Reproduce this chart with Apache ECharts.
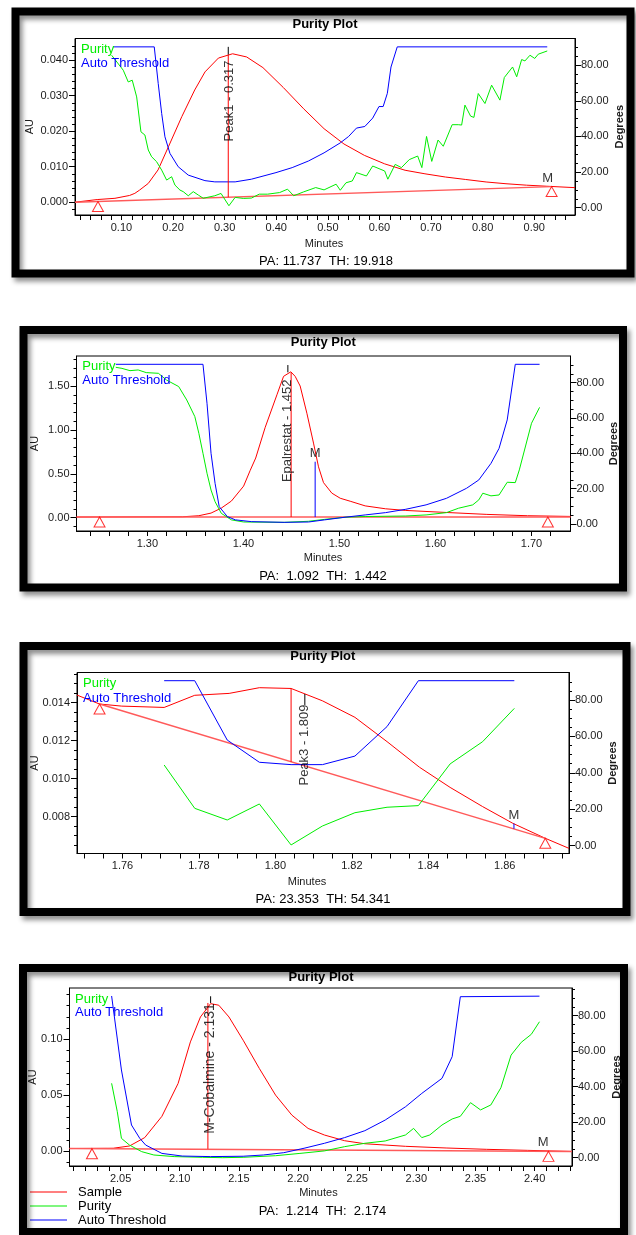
<!DOCTYPE html>
<html><head><meta charset="utf-8">
<script src="https://cdn.jsdelivr.net/npm/echarts@6/dist/echarts.min.js"></script>
<style>html,body{margin:0;padding:0;background:#fff}#c{width:636px;height:1235px}</style>
</head><body><div id="c"></div>
<script>
// ---------------- DATA ----------------
// Panel 1 (Peak1)
const p1XLabels = [0.10,0.20,0.30,0.40,0.50,0.60,0.70,0.80,0.90];
const p1AULabels = [0.000,0.010,0.020,0.030,0.040];
const p1Sample = [[0.010,0.0000],[0.0530,0.00075],[0.0874,0.0011],[0.1158,0.0019],[0.126,0.0025],[0.135,0.0034],[0.152,0.0053],[0.171,0.0091],[0.191,0.0156],[0.217,0.0241],[0.242,0.0316],[0.262,0.0367],[0.288,0.0406],[0.3154,0.0418],[0.3427,0.0409],[0.3742,0.0379],[0.4137,0.0323],[0.4532,0.0263],[0.4927,0.0207],[0.5312,0.0164],[0.5707,0.0132],[0.6102,0.0108],[0.6497,0.0090],[0.6882,0.0080],[0.7277,0.0071],[0.7672,0.0064],[0.8068,0.0057],[0.8453,0.0052],[0.8848,0.0048],[0.9243,0.0045],[0.979,0.0041]];
const p1Baseline = [[0.010,0.0000],[0.9337,0.0044]];
const p1Purity = [[0.081,85.6],[0.1035,77.2],[0.1132,70.6],[0.1209,71.6],[0.1295,62.2],[0.1378,42.6],[0.1455,40.8],[0.152,32.4],[0.1585,28.6],[0.1682,25.8],[0.178,21.1],[0.1876,15.5],[0.1973,17.4],[0.2037,12.7],[0.2134,9.9],[0.2198,9.0],[0.2295,6.7],[0.2392,9.0],[0.249,7.1],[0.2585,5.3],[0.2809,6.7],[0.293,8.0],[0.3083,1.1],[0.3204,5.8],[0.3362,5.2],[0.3519,5.4],[0.367,7.6],[0.3833,7.6],[0.4066,8.5],[0.4218,10.4],[0.4339,6.7],[0.4532,8.9],[0.4765,11.3],[0.4927,10.0],[0.516,13.2],[0.5241,9.8],[0.5352,14.0],[0.5474,15.0],[0.5555,19.7],[0.5748,17.8],[0.5869,23.4],[0.6102,20.6],[0.6163,16.0],[0.6305,24.3],[0.6426,22.5],[0.6578,27.0],[0.6741,29.0],[0.6822,22.5],[0.6913,40.0],[0.7014,26.0],[0.7136,38.0],[0.7237,34.5],[0.7409,46.6],[0.7528,46.6],[0.7593,46.4],[0.7657,57.6],[0.7767,51.4],[0.7831,50.7],[0.7915,64.1],[0.8045,58.5],[0.8174,68.8],[0.8335,60.4],[0.842,73.1],[0.858,79.0],[0.866,73.5],[0.8756,83.2],[0.882,82.4],[0.8917,85.6],[0.901,83.8],[0.9078,86.2],[0.9252,88.0]];
const p1Threshold = [[0.0839,90.3],[0.1636,90.3],[0.1713,69.7],[0.178,52.9],[0.1843,39.8],[0.194,30.5],[0.210,23.0],[0.2295,18.3],[0.2618,15.2],[0.2809,14.5],[0.3204,14.5],[0.3519,16.0],[0.3995,19.7],[0.4309,22.5],[0.4623,26.2],[0.4927,30.8],[0.5241,36.4],[0.5403,40.0],[0.5555,44.7],[0.5717,45.6],[0.5869,50.3],[0.5991,56.8],[0.6072,56.8],[0.6153,64.2],[0.6224,79.0],[0.6345,90.3],[0.9252,90.3]];
const p1Triangles = [[0.0545,0.0002],[0.9337,0.0044]];
const p1PeakLine = [[0.307,0.0014],[0.307,0.0416]];
const p1Leader = [[0.307,0.0416],[0.307,0.04375]];
const p1PeakLabel = [0.309,0.0285];
const p1PeakText = 'Peak1 - 0.317';
const p1MLine = [[0.926,0.00436],[0.926,0.0045]];
const p1Stats = 'PA: 11.737  TH: 19.918';

// Panel 2 (Epalrestat)
const p2XLabels = [1.30,1.40,1.50,1.60,1.70];
const p2AULabels = [0.00,0.50,1.00,1.50];
const p2Sample = [[1.2262,0.008],[1.3368,0.011],[1.3536,0.023],[1.3663,0.053],[1.3770,0.110],[1.3875,0.190],[1.4002,0.360],[1.4071,0.54],[1.4128,0.68],[1.4227,1.03],[1.4349,1.40],[1.4418,1.61],[1.4494,1.662],[1.4539,1.61],[1.4591,1.50],[1.4661,1.19],[1.4730,0.85],[1.4782,0.58],[1.4834,0.40],[1.4921,0.28],[1.5008,0.222],[1.5112,0.188],[1.5268,0.135],[1.5480,0.102],[1.5691,0.083],[1.6114,0.060],[1.6535,0.038],[1.6958,0.023],[1.7406,0.015]];
const p2Baseline = [[1.2262,0.008],[1.7406,0.008]];
const p2Purity = [[1.2671,88.7],[1.2735,88.1],[1.2819,86.8],[1.2904,87.2],[1.2988,85.7],[1.3115,85.3],[1.3199,81.5],[1.3326,77.8],[1.3410,70.2],[1.3494,60.8],[1.3536,51.3],[1.3579,40.0],[1.3621,28.7],[1.3663,19.2],[1.3705,12.6],[1.3770,6.0],[1.3875,2.3],[1.4002,1.1],[1.4424,0.9],[1.4678,1.5],[1.4846,2.6],[1.5058,3.8],[1.5268,4.2],[1.5691,4.5],[1.5902,5.1],[1.6114,6.4],[1.6240,8.9],[1.6388,10.8],[1.6451,13.6],[1.6493,17.4],[1.6578,15.9],[1.6662,16.4],[1.6747,23.6],[1.6831,23.4],[1.6873,30.6],[1.7000,57.0],[1.7084,66.0]];
const p2Threshold = [[1.2671,90.4],[1.3579,90.4],[1.3621,68.3],[1.3663,40.0],[1.3705,23.0],[1.3748,9.8],[1.3832,4.2],[1.3917,2.3],[1.4086,1.3],[1.4424,0.9],[1.4678,1.1],[1.4846,2.3],[1.5058,3.8],[1.5268,5.1],[1.5480,6.4],[1.5691,8.3],[1.5902,10.8],[1.6114,14.5],[1.6324,20.2],[1.6451,24.9],[1.6578,34.3],[1.6662,42.8],[1.6747,58.9],[1.6831,90.4],[1.7084,90.4]];
const p2Triangles = [[1.2502,0.008],[1.717,0.008]];
const p2PeakLine = [[1.4497,0.008],[1.4497,1.656]];
const p2Leader = [[1.4463,1.656],[1.4463,1.739]];
const p2PeakLabel = [1.4463,0.99];
const p2PeakText = 'Epalrestat - 1.452';
const p2MLine = [[1.4747,0.008],[1.4747,0.638]];
const p2Stats = 'PA:  1.092  TH:  1.442';

// Panel 3 (Peak3)
const p3XLabels = [1.76,1.78,1.80,1.82,1.84,1.86];
const p3AULabels = [0.008,0.010,0.012,0.014];
const p3Sample = [[1.7481,0.0144],[1.754,0.01393],[1.7598,0.01382],[1.7709,0.01375],[1.7789,0.01439],[1.7879,0.01449],[1.7958,0.01479],[1.8041,0.01475],[1.8123,0.0141],[1.8208,0.01323],[1.8292,0.01195],[1.8377,0.0106],[1.8457,0.00954],[1.8542,0.00853],[1.8621,0.00765],[1.8706,0.00686],[1.8768,0.00633]];
const p3Baseline = [[1.754,0.01393],[1.8706,0.00686]];
const p3Purity = [[1.7709,44.3],[1.7789,20.5],[1.7874,14.1],[1.7958,22.9],[1.8041,0.4],[1.8123,10.8],[1.8208,18.1],[1.8292,21.1],[1.8374,22.0],[1.8457,44.9],[1.8542,57.1],[1.8625,75.4]];
const p3Threshold = [[1.7709,90.6],[1.7789,90.6],[1.7874,58.0],[1.7958,45.8],[1.8041,44.5],[1.8123,44.5],[1.8208,49.2],[1.8292,65.4],[1.8374,90.6],[1.8625,90.6]];
const p3Triangles = [[1.754,0.01393],[1.8706,0.00686]];
const p3PeakLine = [[1.8041,0.01089],[1.8041,0.01475]];
const p3Leader = [[1.8077,0.01446],[1.8077,0.01388]];
const p3PeakLabel = [1.8077,0.01177];
const p3PeakText = 'Peak3 - 1.809';
const p3MLine = [[1.8624,0.00736],[1.8624,0.00764]];
const p3Stats = 'PA: 23.353  TH: 54.341';

// Panel 4 (M-Cobalmine)
const p4XLabels = [2.05,2.10,2.15,2.20,2.25,2.30,2.35,2.40];
const p4AULabels = [0.00,0.05,0.10];
const p4Sample = [[2.0068,0.0022],[2.0438,0.0025],[2.0575,0.0045],[2.0704,0.012],[2.0849,0.031],[2.0986,0.0604],[2.1090,0.0976],[2.1175,0.1199],[2.1261,0.1318],[2.1330,0.1304],[2.1416,0.1199],[2.1536,0.0991],[2.1673,0.0738],[2.1810,0.0500],[2.1948,0.0321],[2.2085,0.0202],[2.2223,0.0143],[2.2394,0.0092],[2.2565,0.0065],[2.2909,0.0042],[2.3252,0.0027],[2.3595,0.0015],[2.3939,0.0006],[2.4316,-0.0004]];
const p4Baseline = [[2.0068,0.0022],[2.4316,-0.0004]];
const p4Purity = [[2.0424,41.9],[2.0472,25.9],[2.0507,10.9],[2.0575,7.1],[2.0678,3.4],[2.0781,1.5],[2.0953,0.6],[2.1193,0.2],[2.1364,0.0],[2.1536,0.2],[2.1810,1.1],[2.2016,2.4],[2.2223,3.8],[2.2394,6.2],[2.2565,8.1],[2.2737,9.4],[2.2909,12.8],[2.2977,16.5],[2.3046,11.3],[2.3114,12.8],[2.3217,18.4],[2.3303,21.8],[2.3372,23.3],[2.3458,31.0],[2.3543,26.9],[2.3630,29.7],[2.3715,39.4],[2.3801,57.8],[2.3887,65.0],[2.3972,69.5],[2.4041,76.6]];
const p4Threshold = [[2.0424,91.1],[2.0507,49.4],[2.0592,18.4],[2.0662,10.9],[2.0712,7.1],[2.0849,2.4],[2.1021,0.9],[2.1261,0.6],[2.1536,0.8],[2.1707,1.5],[2.1879,2.8],[2.2051,5.3],[2.2223,8.1],[2.2394,11.3],[2.2565,15.2],[2.2737,21.2],[2.2909,28.7],[2.3046,36.2],[2.3217,44.7],[2.3303,56.9],[2.3372,90.7],[2.4041,91.0]];
const p4Triangles = [[2.0258,0.0021],[2.4117,-0.0003]];
const p4PeakLine = [[2.1238,0.0019],[2.1238,0.1324]];
const p4Leader = [[2.1261,0.1324],[2.1261,0.1384]];
const p4PeakLabel = [2.1261,0.0738];
const p4PeakText = 'M-Cobalmine - 2.131';
const p4MLine = [[2.4072,0.0000],[2.4072,0.0002]];
const p4Stats = 'PA:  1.214  TH:  2.174';

const degLabels = [0,20,40,60,80];
const legendNames = ['Sample','Purity','Auto Threshold'];

// ---------------- LAYOUT / STYLE ----------------
const FONT = '"Liberation Sans", Arial, Helvetica, sans-serif';
const panels = [
  {frame:[15.5,11.5,615,262], grid:{left:75,top:38.5,width:500,height:176.5},
   x:[0.010,0.979,0.02,2], yl:[-0.0036,0.0461,0.002,3], yr:[-4.1,95.0,5],
   xL:p1XLabels, yL:p1AULabels, sample:p1Sample, baseline:p1Baseline, purity:p1Purity, threshold:p1Threshold,
   tri:p1Triangles, peak:p1PeakLine, leader:p1Leader, plabel:p1PeakLabel, ptext:p1PeakText, pfs:13, m:p1MLine, stats:p1Stats,
   title:[325,24.3], minutes:[324,244], statsPos:[326,261.7], au:[30,126.7], deg:[620,126.7], leg:[81,49,63.3]},
  {frame:[23.5,330,599.5,257.5], grid:{left:76.5,top:356,width:494,height:175},
   x:[1.2262,1.7406,0.02,2], yl:[-0.151,1.842,0.1,2], yr:[-4.0,95.1,5],
   xL:p2XLabels, yL:p2AULabels, sample:p2Sample, baseline:p2Baseline, purity:p2Purity, threshold:p2Threshold,
   tri:p2Triangles, peak:p2PeakLine, leader:p2Leader, plabel:p2PeakLabel, ptext:p2PeakText, pfs:13, m:p2MLine, stats:p2Stats,
   title:[323.3,342.3], minutes:[323,558.3], statsPos:[323,576.7], au:[35,443.5], deg:[613.7,443.5], leg:[82.3,366.7,380.5]},
  {frame:[23.5,646,603,266], grid:{left:77,top:672.5,width:492,height:181},
   x:[1.7481,1.8768,0.005,2], yl:[0.00606,0.01559,0.0005,3], yr:[-4.3,95.1,5],
   xL:p3XLabels, yL:p3AULabels, sample:p3Sample, baseline:p3Baseline, purity:p3Purity, threshold:p3Threshold,
   tri:p3Triangles, peak:p3PeakLine, leader:p3Leader, plabel:p3PeakLabel, ptext:p3PeakText, pfs:13, m:p3MLine, stats:p3Stats,
   title:[322.8,656.7], minutes:[307,882.3], statsPos:[323,899.3], au:[34.5,763], deg:[612.7,763], leg:[83,683.3,698.3]},
  {frame:[23,968,601,264], grid:{left:69.5,top:988,width:502.5,height:178},
   x:[2.0068,2.4316,0.01,2], yl:[-0.0134,0.1458,0.01,2], yr:[-4.7,95.6,5],
   xL:p4XLabels, yL:p4AULabels, sample:p4Sample, baseline:p4Baseline, purity:p4Purity, threshold:p4Threshold,
   tri:p4Triangles, peak:p4PeakLine, leader:p4Leader, plabel:p4PeakLabel, ptext:p4PeakText, pfs:14, m:p4MLine, stats:p4Stats,
   title:[321,977.3], minutes:[318.4,1193.3], statsPos:[322.5,1211.7], au:[33.3,1077], deg:[616.5,1077], leg:[75,999.3,1012.7]}
];

function stepValues(min, max, step){
  const out = [];
  const start = Math.ceil(min/step - 1e-9), end = Math.floor(max/step + 1e-9);
  for (let i = start; i <= end; i++) {
    const v = +(i*step).toFixed(8);
    if (v > min + step*0.05 && v < max - step*0.05) out.push(v);
  }
  return out;
}

const grids = [], xAxes = [], yAxes = [], series = [], graphics = [];
const lbl = {fontSize:11, color:'#1a1a1a', fontFamily:FONT};

panels.forEach((P, g) => {
  grids.push(Object.assign({show:true, borderColor:'#000', borderWidth:1, containLabel:false}, P.grid));
  const xDec = P.x[3];
  xAxes.push({type:'value', gridIndex:g, min:P.x[0], max:P.x[1], position:'bottom',
    axisLine:{show:true, onZero:false, lineStyle:{color:'#000', width:1}},
    axisTick:{show:true, length:5, customValues:stepValues(P.x[0],P.x[1],P.x[2]), lineStyle:{color:'#000', width:1}},
    axisLabel:Object.assign({show:true, margin:7, customValues:P.xL, formatter:v=>Number(v).toFixed(xDec)}, lbl),
    splitLine:{show:false}});
  const yDec = P.yl[3];
  yAxes.push({type:'value', gridIndex:g, min:P.yl[0], max:P.yl[1], position:'left',
    axisLine:{show:true, onZero:false, lineStyle:{color:'#000', width:1}},
    axisTick:{show:true, length:6, customValues:P.yL, lineStyle:{color:'#000'}},
    axisLabel:Object.assign({show:true, margin:7, customValues:P.yL, formatter:v=>Number(v).toFixed(yDec)}, lbl),
    splitLine:{show:false}});
  yAxes.push({type:'value', gridIndex:g, min:P.yl[0], max:P.yl[1], position:'left',
    axisLine:{show:false}, axisTick:{show:true, length:3, customValues:stepValues(P.yl[0],P.yl[1],P.yl[2]), lineStyle:{color:'#000'}},
    axisLabel:{show:false}, splitLine:{show:false}});
  yAxes.push({type:'value', gridIndex:g, min:P.yr[0], max:P.yr[1], position:'right',
    axisLine:{show:true, onZero:false, lineStyle:{color:'#000', width:1}},
    axisTick:{show:true, length:6, customValues:degLabels, lineStyle:{color:'#000'}},
    axisLabel:Object.assign({show:true, margin:6, customValues:degLabels, formatter:v=>Number(v).toFixed(2)}, lbl),
    splitLine:{show:false}});
  yAxes.push({type:'value', gridIndex:g, min:P.yr[0], max:P.yr[1], position:'right',
    axisLine:{show:false}, axisTick:{show:true, length:3, customValues:stepValues(P.yr[0],P.yr[1],P.yr[2]), lineStyle:{color:'#000'}},
    axisLabel:{show:false}, splitLine:{show:false}});

  const yl = 4*g, yr = 4*g+2;
  const line = (name, data, yIdx, color, width, z) => ({type:'line', name, xAxisIndex:g, yAxisIndex:yIdx, data,
    symbol:'none', showSymbol:false, lineStyle:{color, width}, itemStyle:{color}, z, silent:true, animation:false});
  series.push(line('Sample', P.sample, yl, '#ff0000', 1, 3));
  series.push(line('Baseline', P.baseline, yl, '#ff5a5a', 1.4, 3));
  series.push(line('Purity', P.purity, yr, '#00ee00', 1, 4));
  series.push(line('Auto Threshold', P.threshold, yr, '#0000ff', 1, 5));
  series.push(line('Peak', P.peak, yl, '#ff0000', 1, 6));
  series.push(line('Leader', P.leader, yl, '#000000', 1, 6));
  series.push(line('MMark', P.m, yl, '#0000ff', 1, 6));
  series.push({type:'scatter', xAxisIndex:g, yAxisIndex:yl, data:P.tri, symbol:'triangle', symbolSize:[11,10], symbolOffset:[0,5],
    itemStyle:{color:'rgba(255,255,255,0)', borderColor:'#ff0000', borderWidth:1}, z:7, silent:true, animation:false});
  series.push({type:'scatter', xAxisIndex:g, yAxisIndex:yl, data:[P.plabel], symbolSize:1, itemStyle:{color:'rgba(0,0,0,0)'},
    label:{show:true, position:'inside', rotate:90, formatter:P.ptext, fontSize:P.pfs, color:'#000', fontFamily:FONT}, z:8, silent:true, animation:false});
  series.push({type:'scatter', xAxisIndex:g, yAxisIndex:yl, data:[P.m[1]], symbolSize:1, itemStyle:{color:'rgba(0,0,0,0)'},
    label:{show:true, position:'top', distance:1, formatter:'M', fontSize:13, color:'#000', fontFamily:FONT}, z:8, silent:true, animation:false});

  graphics.push({type:'rect', shape:{x:P.frame[0], y:P.frame[1], width:P.frame[2], height:P.frame[3]},
    style:{fill:'none', stroke:'#000', lineWidth:8, shadowBlur:5, shadowOffsetX:3, shadowOffsetY:4, shadowColor:'rgba(0,0,0,0.45)'}, z:100, silent:true});
  const txt = (x, y, text, o) => graphics.push({type:'text', x, y, rotation:o.rot||0, silent:true, z:101,
    style:{text, fontSize:o.fs||11, fontWeight:o.fw||'normal', fontFamily:FONT, fill:o.c||'#000', align:o.al||'center', verticalAlign:'middle'}});
  txt(P.title[0], P.title[1], 'Purity Plot', {fs:13, fw:'bold'});
  txt(P.minutes[0], P.minutes[1], 'Minutes', {fs:11, c:'#1a1a1a'});
  txt(P.statsPos[0], P.statsPos[1], P.stats, {fs:13});
  txt(P.au[0], P.au[1], 'AU', {fs:11, rot:Math.PI/2, c:'#1a1a1a'});
  txt(P.deg[0], P.deg[1], 'Degrees', {fs:11, fw:'bold', rot:Math.PI/2, c:'#1a1a1a'});
  txt(P.leg[0], P.leg[1], 'Purity', {fs:13, c:'#00ee00', al:'left'});
  txt(P.leg[0], P.leg[2], 'Auto Threshold', {fs:13, c:'#0000ff', al:'left'});
});

const chart = echarts.init(document.getElementById('c'), null, {renderer:'canvas'});
chart.setOption({
  animation:false,
  backgroundColor:'#fff',
  grid:grids, xAxis:xAxes, yAxis:yAxes, series:series,
  legend:{data:legendNames, orient:'vertical', left:30, top:1185.5, padding:0, itemWidth:37, itemHeight:14, itemGap:1,
    icon:'path://M0,0H37V1.2H0Z', symbolKeepAspect:true,
    selectedMode:false, textStyle:{fontSize:13, color:'#000', fontFamily:FONT, padding:[0,0,0,6]}},
  graphic:graphics
});
</script>
</body></html>
